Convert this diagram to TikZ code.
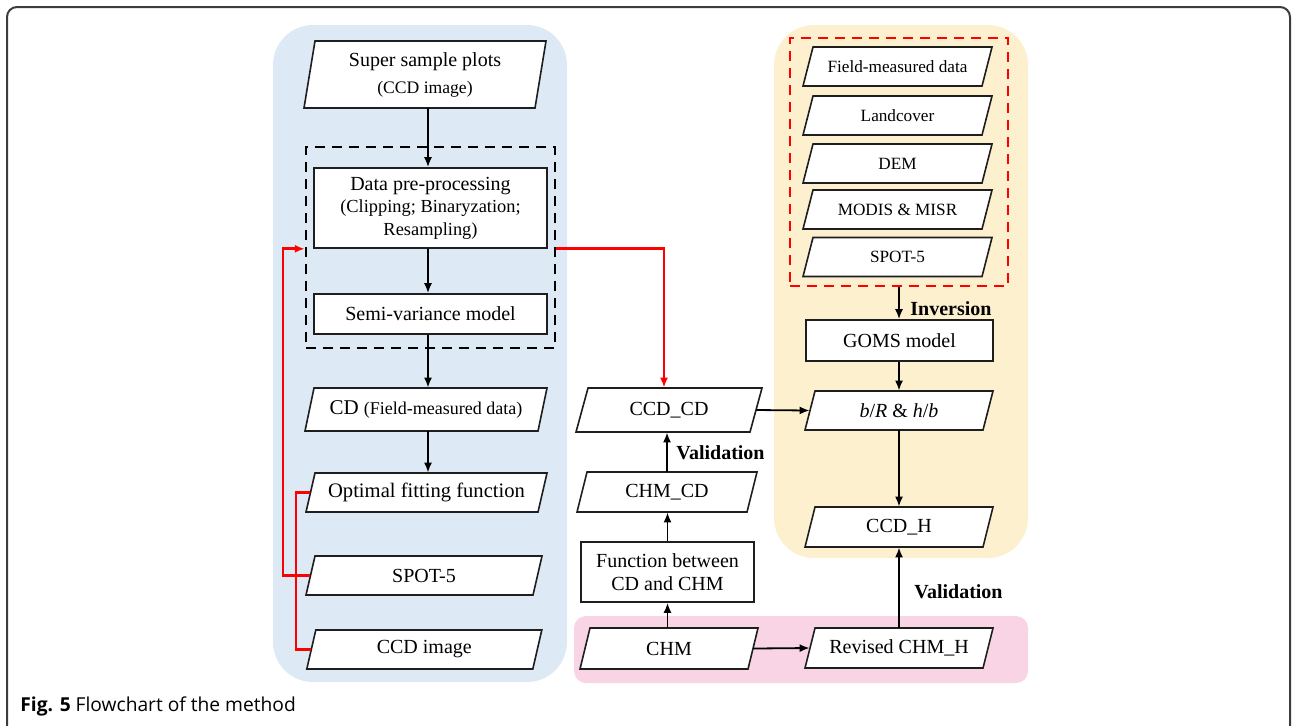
\documentclass[tikz,border=0pt]{standalone}
\usepackage{fontspec}
\setmainfont{Liberation Serif}
\newfontfamily\capfont{Open Sans}
\usetikzlibrary{arrows.meta}
\definecolor{bluebg}{RGB}{221,233,245}
\definecolor{yellowbg}{RGB}{253,240,207}
\definecolor{pinkbg}{RGB}{249,212,228}
\definecolor{framegray}{RGB}{60,60,60}
\definecolor{boxline}{RGB}{30,30,30}
\tikzset{
  pgline/.style={draw=boxline, fill=white, line width=0.8pt},
  pgtext/.style={rectangle, inner sep=0pt, align=center, font=\fontsize{10}{12}\selectfont},
  smalltext/.style={font=\fontsize{8.6}{10}\selectfont},
  box/.style={rectangle, draw=boxline, fill=white, line width=0.8pt, align=center,
    inner sep=1pt, font=\fontsize{10}{12}\selectfont},
  arr/.style={-{Latex[length=5pt,width=4pt]}, line width=0.9pt},
  redarr/.style={draw=red, line width=1.4pt, -{Latex[length=5pt,width=4pt]}},
  redline/.style={draw=red, line width=1.4pt},
  lbl/.style={font=\bfseries\fontsize{10}{12}\selectfont, inner sep=0pt, anchor=west}
}
% \pgram[node options]{name}{x}{y}{mid width}{height}{slant}{text}  (pixel units)
\newcommand{\pgram}[8][]{%
  \path[pgline] ({#3-#5/2-#7/2},{#4+#6/2}) -- ({#3+#5/2-#7/2},{#4+#6/2})
     -- ({#3+#5/2+#7/2},{#4-#6/2}) -- ({#3-#5/2+#7/2},{#4-#6/2}) -- cycle;
  \node[pgtext, minimum width={#5*0.5pt}, minimum height={#6*0.5pt}, #1] (#2) at (#3,#4) {#8};}
\begin{document}
\begin{tikzpicture}[x=0.5pt,y=-0.5pt]
\useasboundingbox (0,0) rectangle (1293,725);
% frame
\draw[framegray, line width=1pt, rounded corners=5pt] (7,740) -- (7,7) -- (1290,7) -- (1290,740);
% background regions
\fill[bluebg, rounded corners=20pt] (273,25) rectangle (567,682);
\fill[yellowbg, rounded corners=20pt] (774,25) rectangle (1028,558);
\fill[pinkbg, rounded corners=6pt] (574,616) rectangle (1028,683);

% left column
\pgram[font=\fontsize{10}{13.5}\selectfont]{ssp}{425}{74.5}{231}{67}{11}
  {Super sample plots\\{\fontsize{8.8}{13.5}\selectfont (CCD image)}}
\node[draw, dashed, dash pattern=on 5pt off 3.5pt, line width=1.2pt, minimum width=124.5pt, minimum height=100.5pt, inner sep=0pt] (dbox) at (430.5,247.5) {};
\node[box, minimum width=116.5pt, minimum height=40pt, font=\fontsize{10}{11.3}\selectfont] (dpp) at (430.5,208)
  {Data pre-processing\\{\fontsize{9.2}{10.5}\selectfont (Clipping; Binaryzation;}\\{\fontsize{9.2}{10.5}\selectfont Resampling)}};
\node[box, minimum width=116.5pt, minimum height=20pt] (svm) at (430.5,314) {Semi-variance model};
\pgram{cd}{426}{409.5}{233}{43}{9}
  {{\fontsize{10.5}{12}\selectfont CD} {\fontsize{9}{11}\selectfont (Field-measured data)}}
\pgram[font=\fontsize{10.3}{12}\selectfont]{opt}{426.5}{492.5}{232}{39}{9}{Optimal fitting function}
\pgram{spotL}{424}{575.5}{227}{39}{9}{SPOT-5}
\pgram{ccdimg}{424.3}{649.5}{226}{39}{9}{CCD image}

% middle column
\pgram{ccdcd}{669}{410}{174}{44}{12}{CCD\_CD}
\pgram{chmcd}{667}{492}{170}{40}{10}{CHM\_CD}
\node[box, minimum width=86.5pt, minimum height=30pt, font=\fontsize{10}{11.5}\selectfont] (func) at (667.5,572) {Function between\\CD and CHM};
\pgram{chm}{669}{648.5}{168}{41}{10}{CHM}

% right column
\node[draw=red, dashed, dash pattern=on 5pt off 3.5pt, line width=1.2pt, minimum width=109pt, minimum height=124pt, inner sep=0pt] (rbox) at (899,162) {};
\pgram[smalltext]{fmd}{897.5}{66.5}{179}{39}{10}{Field-measured data}
\pgram[smalltext]{land}{897.5}{115.5}{179}{39}{10}{Landcover}
\pgram[smalltext]{dem}{897.5}{163.5}{179}{39}{10}{DEM}
\pgram[smalltext]{modis}{897.5}{209.5}{179}{39}{10}{MODIS \& MISR}
\pgram[smalltext]{spotR}{897.5}{257}{179}{39}{10}{SPOT-5}
\node[box, minimum width=93.5pt, minimum height=20.5pt] (goms) at (899.5,340.5) {GOMS model};
\pgram{br}{899}{410.5}{178}{39}{10}{\textit{b}/\textit{R} \& \textit{h}/\textit{b}}
\pgram{ccdh}{899}{527}{178}{40}{10}{CCD\_H}
\pgram{rev}{899}{648}{178}{40}{10}{Revised CHM\_H}

% coordinates for red routing
\coordinate (r1) at (283,0);
\coordinate (r2) at (296,0);
\coordinate (colL) at (428,0);

% black arrows left
\draw[arr] (ssp.south -| colL) -- (colL |- dpp.north);
\draw[arr] (dpp.south -| colL) -- (colL |- svm.north);
\draw[arr] (svm.south -| colL) -- (colL |- cd.north);
\draw[arr] (cd.south -| colL) -- (colL |- opt.north);

% red connectors
\draw[redarr] (spotL.west) -- (spotL.west -| r1) -- (r1 |- dpp.south) -- (dbox.west |- dpp.south);
\draw[redline] (opt.west) -- (opt.west -| r2) -- (r2 |- ccdimg.west) -- (ccdimg.west);
\draw[redarr] (dbox.east |- dpp.south) -- ([xshift=-2.5pt]ccdcd.north |- dpp.south) -- ([xshift=-2.5pt]ccdcd.north);

% middle arrows
\draw[arr] (chm.north -| func.north) -- (func.south);
\draw[arr] (func.north) -- (func.north |- chmcd.south);
\draw[arr] (chmcd.north) -- (chmcd.north |- ccdcd.south);
\node[lbl] (val1) at (676,453) {Validation};
\draw[arr] (ccdcd.east) -- (br.west);
\draw[arr] (chm.east) -- (rev.west);

% right arrows
\draw[arr] (rbox.south -| ccdh.north) -- (ccdh.north |- goms.north);
\node[lbl] (inv) at (910,309) {Inversion};
\draw[arr] (goms.south -| ccdh.north) -- (br.north -| ccdh.north);
\draw[arr] (br.south -| ccdh.north) -- (ccdh.north);
\draw[arr] (rev.north) -- (ccdh.south);
\node[lbl] (val2) at (914,592) {Validation};

% caption
\node[anchor=west, inner sep=0pt, font=\capfont\fontsize{9.6}{11}\selectfont] (cap) at (20,706) {\textbf{Fig. 5} Flowchart of the method};
\end{tikzpicture}
\end{document}
